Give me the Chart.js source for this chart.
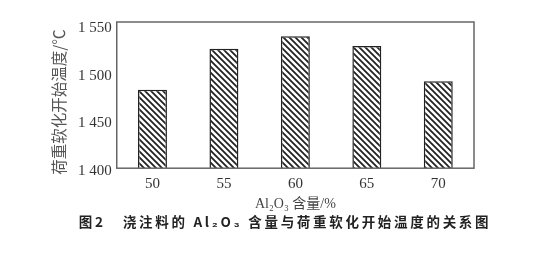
<!DOCTYPE html>
<html>
<head>
<meta charset="utf-8">
<script src="https://cdn.jsdelivr.net/npm/chart.js@4/dist/chart.umd.min.js"></script>
<style>
  html, body { margin: 0; padding: 0; background: #fff; }
  #wrap { width: 537px; height: 261px; }
</style>
</head>
<body>
<div id="wrap"><canvas id="c" width="537" height="261"></canvas></div>
<script>
// Al2O3 content (%) and load-softening start temperature (°C)
const categories = ['50', '55', '60', '65', '70'];
const softeningTemp = [1482, 1525, 1538, 1528, 1491];
const yTicks = [1400, 1450, 1500, 1550];

const xTitle = 'Al\u2082O\u2083 含量/%';
const yTitle = '荷重软化开始温度/℃';
const caption = '图2   浇注料的 Al\u2082O\u2083 含量与荷重软化开始温度的关系图';

// diagonal hatch fill
function hatch() {
  const s = 6;
  const p = document.createElement('canvas');
  p.width = s; p.height = s;
  const g = p.getContext('2d');
  g.fillStyle = '#fff';
  g.fillRect(0, 0, s, s);
  g.strokeStyle = '#222';
  g.lineWidth = 1.8;
  g.beginPath();
  g.moveTo(-1, -1); g.lineTo(s + 1, s + 1);
  g.moveTo(-1, s - 1); g.lineTo(1, s + 1);
  g.moveTo(s - 1, -1); g.lineTo(s + 1, 1);
  g.stroke();
  return g.createPattern(p, 'repeat');
}

// frame around the plotting area
const frame = {
  id: 'frame',
  afterDatasetsDraw(chart) {
    const { ctx, chartArea: a } = chart;
    ctx.save();
    ctx.strokeStyle = '#666';
    ctx.lineWidth = 1.5;
    ctx.strokeRect(a.left, a.top, a.right - a.left, a.bottom - a.top);
    ctx.restore();
  }
};

// rotated y-axis title and the letter-spaced figure caption
const texts = {
  id: 'texts',
  afterDraw(chart) {
    const { ctx, chartArea: a } = chart;
    ctx.save();
    ctx.translate(a.left - 58, a.top + 80);
    ctx.rotate(-Math.PI / 2);
    ctx.font = '15.5px "Noto Sans CJK SC", sans-serif';
    ctx.fillStyle = '#555';
    ctx.textAlign = 'center';
    ctx.textBaseline = 'middle';
    ctx.fillText(yTitle, 0, 0);
    ctx.restore();

    ctx.save();
    ctx.font = 'bold 13.5px "Noto Sans CJK SC", sans-serif';
    ctx.letterSpacing = '2.7px';
    ctx.fillStyle = '#222';
    ctx.textAlign = 'center';
    ctx.textBaseline = 'middle';
    ctx.fillText(caption, 285, 222);
    ctx.restore();
  }
};

const ctx = document.getElementById('c').getContext('2d');
new Chart(ctx, {
  type: 'bar',
  data: {
    labels: categories,
    datasets: [{
      data: softeningTemp,
      backgroundColor: hatch(),
      borderColor: '#222',
      borderWidth: 1.5,
      borderSkipped: false,
      barPercentage: 0.405,
      categoryPercentage: 1.0
    }]
  },
  options: {
    responsive: false,
    animation: false,
    layout: { padding: { left: 76, right: 63, top: 22, bottom: 48 } },
    plugins: {
      legend: { display: false },
      tooltip: { enabled: false },
      title: { display: false }
    },
    scales: {
      x: {
        grid: { display: false, drawTicks: false },
        border: { display: false },
        ticks: {
          color: '#333',
          padding: 7,
          font: { family: '"Liberation Serif", serif', size: 15 }
        },
        title: {
          display: true,
          text: xTitle,
          color: '#444',
          padding: { top: -4, bottom: 0 },
          font: { family: '"Liberation Serif", "Noto Sans CJK SC", serif', size: 14 }
        }
      },
      y: {
        min: 1400,
        max: 1553,
        afterBuildTicks(axis) { axis.ticks = yTicks.map(v => ({ value: v })); },
        grid: { display: false, drawTicks: true, tickLength: 3, color: '#777' },
        border: { display: false },
        ticks: {
          color: '#333',
          padding: 2,
          labelOffset: 3,
          font: { family: '"Liberation Serif", serif', size: 15 },
          callback: v => String(v).replace(/(\d)(\d{3})$/, '$1 $2')
        },
        title: { display: false }
      }
    }
  },
  plugins: [frame, texts]
});
</script>
</body>
</html>
